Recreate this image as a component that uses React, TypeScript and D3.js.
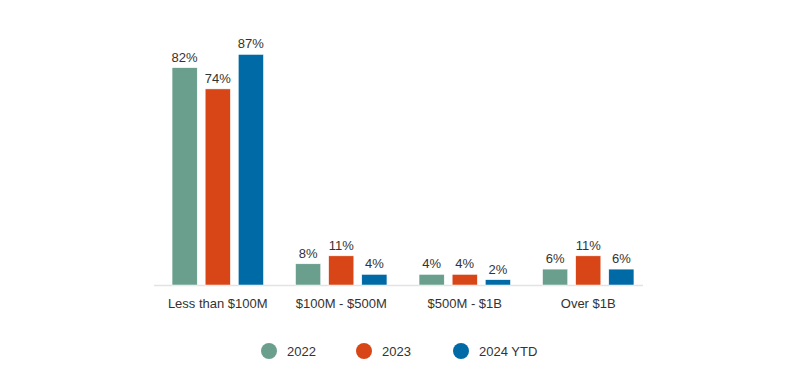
import React from "react";
import * as d3 from "d3";

const categories = ["Less than $100M", "$100M - $500M", "$500M - $1B", "Over $1B"];
const seriesNames = ["2022", "2023", "2024 YTD"];
const values2022 = [82, 8, 4, 6];
const values2023 = [74, 11, 4, 11];
const values2024 = [87, 4, 2, 6];
const colors = ["#6a9f8e", "#d84618", "#006aa7"];

export default function App() {
  const W = 800, H = 382;
  const series = [values2022, values2023, values2024];
  const x = d3.scaleBand<string>().domain(categories).range([156, 650]).paddingInner(0.26).paddingOuter(0.13);
  const x1 = d3.scaleBand<string>().domain(seriesNames).range([0, x.bandwidth()]).paddingInner(0.24);
  const y = d3.scaleLinear().domain([0, 100]).range([285, 20]);
  const font = "'Liberation Sans', Arial, sans-serif";
  const legendX = [269, 364, 461];
  return (
    <svg width={W} height={H} style={{ position: "absolute", left: 0, top: 0 }} fontFamily={font}>
      <rect width={W} height={H} fill="#fff" />
      <line x1={154} x2={643} y1={y(0) + 0.5} y2={y(0) + 0.5} stroke="#e3e3e3" strokeWidth={1.5} />
      {categories.map((c, i) => (
        <g key={c}>
          {series.map((s, j) => {
            const bx = (x(c) as number) + (x1(seriesNames[j]) as number);
            const w = x1.bandwidth();
            return (
              <g key={j}>
                <rect x={bx} y={y(s[i])} width={w} height={y(0) - y(s[i])} fill={colors[j]} stroke="#fff" strokeWidth={0.5} />
                <text x={bx + w / 2} y={y(s[i]) - 6} textAnchor="middle" fontSize={13} fill="#333">{s[i]}%</text>
              </g>
            );
          })}
          <text x={(x(c) as number) + x.bandwidth() / 2} y={308} textAnchor="middle" fontSize={13} fill="#333">{c}</text>
        </g>
      ))}
      {seriesNames.map((n, j) => (
        <g key={n}>
          <circle cx={legendX[j]} cy={351} r={8} fill={colors[j]} />
          <text x={legendX[j] + 18} y={356} fontSize={13} fill="#333">{n}</text>
        </g>
      ))}
    </svg>
  );
}
